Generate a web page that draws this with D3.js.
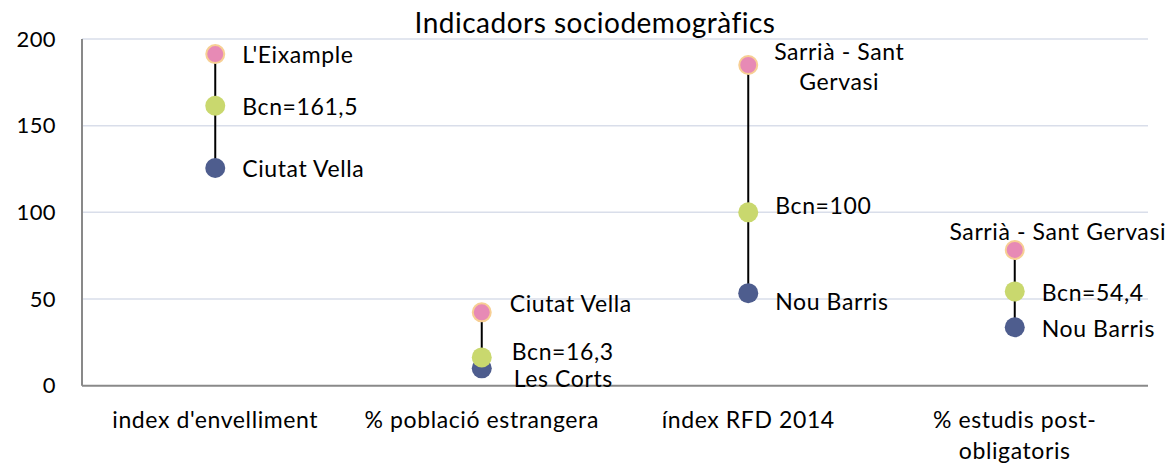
<!DOCTYPE html>
<html><head><meta charset="utf-8">
<script src="https://cdn.jsdelivr.net/npm/d3@7"></script>
<style>body{margin:0;background:#fff}svg{display:block}text{font-family:Lato,sans-serif;fill:#000}</style>
</head><body><svg id="c" width="1168" height="463"></svg>
<script>
const categories = [["index d'envelliment"], ["% població estrangera"], ["índex RFD 2014"], ["% estudis post-", "obligatoris"]];
const maxVals = [191.3, 42.3, 185, 78.3];
const bcnVals = [161.5, 16.3, 100, 54.4];
const minVals = [125.6, 10.0, 53.4, 33.7];
const maxLabels = [["L'Eixample"], ["Ciutat Vella"], ["Sarrià - Sant", "Gervasi"], ["Sarrià - Sant Gervasi"]];
const bcnLabels = ["Bcn=161,5", "Bcn=16,3", "Bcn=100", "Bcn=54,4"];
const minLabels = ["Ciutat Vella", "Les Corts", "Nou Barris", "Nou Barris"];
const yTicks = [0, 50, 100, 150, 200];

// layout (label offsets relative to marker: dx, dy, anchor)
const maxLay = [{dx:27,dy:0,a:"start"},{dx:28,dy:-9,a:"start"},{dx:91,dy:-14,a:"middle"},{dx:43,dy:-19,a:"middle"}];
const bcnLay = [{dx:27,dy:0},{dx:30,dy:-6},{dx:27,dy:-7},{dx:27,dy:1}];
const minLay = [{dx:27,dy:0},{dx:32,dy:10},{dx:27,dy:8},{dx:27,dy:1}];
const FS = 23, LS = 0.6;

const svg = d3.select("#c");
const L = 82, R = 1148, T = 39, B = 385.7;
const x = d3.scaleBand().domain(d3.range(categories.length)).range([L, R]);
const y = d3.scaleLinear().domain([0, 200]).range([B, T]);

svg.append("g").selectAll("line").data(yTicks.filter(d => d > 0)).join("line")
  .attr("x1", L).attr("x2", R).attr("y1", d => y(d)).attr("y2", d => y(d))
  .attr("stroke", "#d9deea").attr("stroke-width", 1.5);

const ya = svg.append("g").attr("transform", `translate(${L},0)`)
  .call(d3.axisLeft(y).tickValues(yTicks).tickSize(0).tickPadding(26));
ya.select(".domain").remove();
ya.selectAll("text").attr("font-size", 22).attr("font-family", "Lato").attr("fill", "#000").attr("letter-spacing", 0.4);

svg.append("line").attr("x1", L).attr("x2", L).attr("y1", T).attr("y2", B).attr("stroke", "#898989").attr("stroke-width", 2);
svg.append("line").attr("x1", L).attr("x2", R).attr("y1", B).attr("y2", B).attr("stroke", "#898989").attr("stroke-width", 2);

const cx = i => x(i) + x.bandwidth() / 2;

// x labels
categories.forEach((lines, i) => {
  const t = svg.append("text").attr("x", cx(i)).attr("y", 428).attr("text-anchor", "middle")
    .attr("font-size", FS).attr("letter-spacing", LS);
  lines.forEach((s, j) => t.append("tspan").attr("x", cx(i)).attr("dy", j ? 31 : 0).text(s));
});

// stems
svg.append("g").selectAll("line").data(d3.range(categories.length)).join("line")
  .attr("x1", cx).attr("x2", cx).attr("y1", i => y(maxVals[i])).attr("y2", i => y(minVals[i]))
  .attr("stroke", "#000").attr("stroke-width", 2);

const dot = (vals, fill, stroke) => svg.append("g").selectAll("circle").data(vals).join("circle")
  .attr("cx", (d, i) => cx(i)).attr("cy", d => y(d)).attr("r", stroke ? 9 : 10)
  .attr("fill", fill).attr("stroke", stroke || "none").attr("stroke-width", 2);
dot(minVals, "#4e5d8e");
dot(bcnVals, "#c9d86e");
dot(maxVals, "#e78ab5", "#f7cf94");

const lab = (vals, texts, lay) => vals.forEach((v, i) => {
  const lines = Array.isArray(texts[i]) ? texts[i] : [texts[i]];
  const lx = cx(i) + lay[i].dx;
  const t = svg.append("text").attr("x", lx).attr("y", y(v) + lay[i].dy)
    .attr("dominant-baseline", "central").attr("text-anchor", lay[i].a || "start")
    .attr("font-size", FS).attr("letter-spacing", LS);
  lines.forEach((s, j) => t.append("tspan").attr("x", lx).attr("dy", j ? 30 : 0).text(s));
});
lab(maxVals, maxLabels, maxLay);
lab(bcnVals, bcnLabels, bcnLay);
lab(minVals, minLabels, minLay);

svg.append("text").attr("x", 595).attr("y", 33).attr("text-anchor", "middle")
  .attr("font-size", 28).attr("letter-spacing", 0.5).text("Indicadors sociodemogràfics");
</script></body></html>
